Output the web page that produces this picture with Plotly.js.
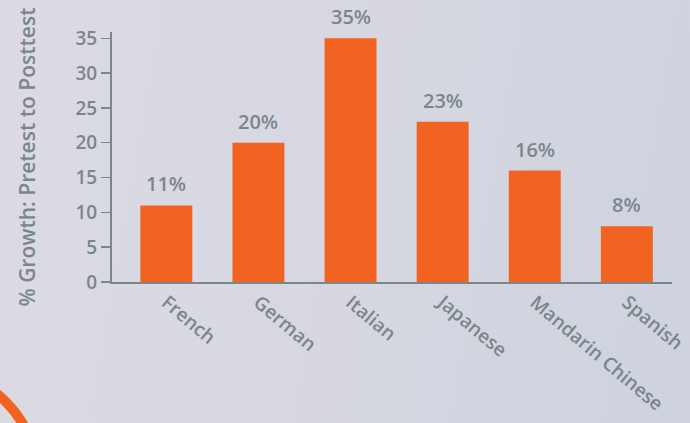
<!DOCTYPE html>
<html>
<head>
<meta charset="utf-8">
<script src="https://cdn.plot.ly/plotly-3.0.1.min.js"></script>
<style>
html,body{margin:0;padding:0;}
body{width:690px;height:423px;overflow:hidden;background:linear-gradient(100deg,#dcdbe4 0%,#d6d7e1 50%,#ced3df 100%);}
#chart{width:690px;height:423px;}
</style>
</head>
<body>
<div id="chart"></div>
<script>
const categories = ["French", "German", "Italian", "Japanese", "Mandarin Chinese", "Spanish"];
const growth = [11, 20, 35, 23, 16, 8];
const valueLabels = ["11%", "20%", "35%", "23%", "16%", "8%"];
const yTicks = [0, 5, 10, 15, 20, 25, 30, 35];

const gray = "#7b868b";
const orange = "#f26322";
const fontFam = "Open Sans, Noto Sans, sans-serif";

const trace = {
  type: "bar",
  x: categories,
  y: growth,
  marker: {color: orange},
  hoverinfo: "skip"
};

const annotations = categories.map((c, i) => ({
  x: c, y: growth[i], xref: "x", yref: "y",
  text: valueLabels[i], showarrow: false,
  yanchor: "bottom", yshift: 6,
  font: {family: fontFam, size: 20, color: gray, weight: 600}
}));

const layout = {
  width: 690, height: 423,
  margin: {l: 112, r: 18, t: 32, b: 141},
  paper_bgcolor: "rgba(0,0,0,0)",
  plot_bgcolor: "rgba(0,0,0,0)",
  bargap: 0.436,
  showlegend: false,
  xaxis: {
    range: [-0.59, 5.49],
    showline: true, linecolor: gray, linewidth: 2,
    ticks: "", tickangle: 40,
    tickfont: {family: fontFam, size: 19, color: gray, weight: 600},
    showgrid: false, zeroline: false, fixedrange: true
  },
  yaxis: {
    range: [0, 35.9],
    tickvals: yTicks,
    showline: true, linecolor: gray, linewidth: 2,
    ticks: "outside", ticklen: 9, tickwidth: 1.5, tickcolor: gray,
    tickfont: {family: fontFam, size: 19, color: gray, weight: 600},
    showgrid: false, zeroline: false, fixedrange: true,
    title: {text: "% Growth: Pretest to Posttest", standoff: 34,
      font: {family: fontFam, size: 21, color: gray, weight: 600}}
  },
  shapes: [{
    type: "circle", xref: "paper", yref: "paper",
    x0: -0.503, x1: -0.135, y0: -1.184, y1: -0.36,
    line: {color: orange, width: 10}, fillcolor: "rgba(0,0,0,0)"
  }],
  annotations: annotations
};

Plotly.newPlot("chart", [trace], layout, {displayModeBar: false, staticPlot: true});
</script>
</body>
</html>
